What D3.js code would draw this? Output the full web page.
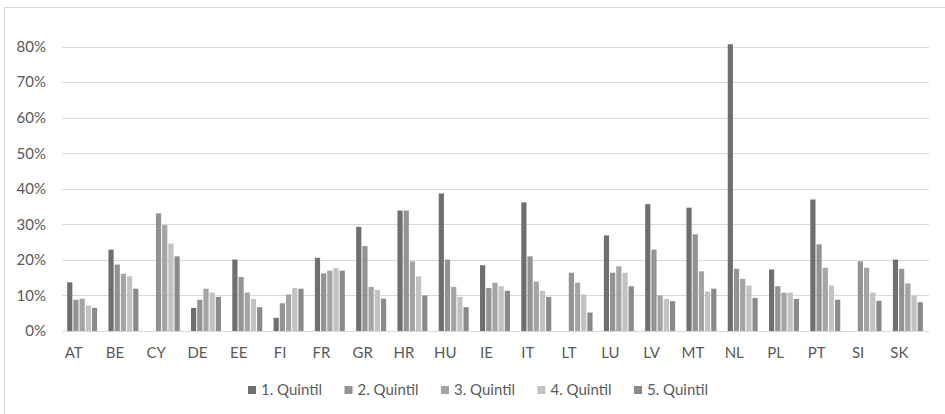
<!DOCTYPE html>
<html>
<head>
<meta charset="utf-8">
<script src="https://cdn.jsdelivr.net/npm/d3@7"></script>
<style>
  html, body { margin: 0; padding: 0; background: #fff; }
  svg { display: block; font-family: Lato, "Open Sans", sans-serif; }
</style>
</head>
<body>
<svg id="chart" width="945" height="414"></svg>
<script>
// Country codes along the x axis
const countries = ["AT","BE","CY","DE","EE","FI","FR","GR","HR","HU","IE","IT","LT","LU","LV","MT","NL","PL","PT","SI","SK"];

// Share per income quintil (percent); null = no value
const quintil1 = [13.7,22.9,null,6.5,20.1,3.7,20.6,29.3,33.9,38.7,18.5,36.2,null,26.9,35.7,34.7,80.7,17.3,37.0,null,20.1];
const quintil2 = [8.8,18.7,33.1,8.8,15.2,7.8,16.2,23.9,33.9,20.1,12.1,21.0,16.4,16.4,22.9,27.2,17.5,12.6,24.4,19.6,17.5];
const quintil3 = [9.1,16.1,29.8,11.9,10.8,10.3,17.0,12.4,19.6,12.4,13.6,13.9,13.6,18.2,10.0,16.8,14.7,10.8,17.8,17.8,13.4];
const quintil4 = [7.2,15.4,24.6,10.8,9.0,12.1,17.7,11.6,15.4,9.6,12.6,11.3,10.3,16.4,9.0,11.1,12.8,10.8,12.8,10.8,10.0];
const quintil5 = [6.5,11.9,21.0,9.6,6.7,11.9,17.0,9.1,10.0,6.7,11.3,9.6,5.2,12.6,8.4,11.9,9.3,9.0,8.8,8.5,8.1];

const seriesNames = ["1. Quintil","2. Quintil","3. Quintil","4. Quintil","5. Quintil"];
const yTicks = [0,10,20,30,40,50,60,70,80];

const seriesValues = [quintil1, quintil2, quintil3, quintil4, quintil5];
const colors = ["#6f6f6f","#939393","#a4a4a4","#c2c2c2","#8a8a8a"];

const svg = d3.select("#chart");
const W = 945, H = 414;
const plot = { left: 62, right: 929, top: 46.7, bottom: 331 };

svg.append("rect").attr("width", W).attr("height", H).attr("fill", "#fff");
// outer chart frame
svg.append("rect")
  .attr("x", 4.5).attr("y", 7.5)
  .attr("width", W + 10).attr("height", H + 10)
  .attr("fill", "none").attr("stroke", "#d9d9d9").attr("stroke-width", 1);

const x = d3.scaleBand().domain(countries).range([plot.left, plot.right]).paddingInner(0.25).paddingOuter(0.125);
const xs = d3.scaleBand().domain(seriesNames).range([0, x.bandwidth()]);
const y = d3.scaleLinear().domain([0, 80]).range([plot.bottom, plot.top]);

// gridlines
svg.append("g").selectAll("line").data(yTicks).join("line")
  .attr("x1", plot.left).attr("x2", plot.right)
  .attr("y1", d => Math.round(y(d)) + 0.5).attr("y2", d => Math.round(y(d)) + 0.5)
  .attr("stroke", "#d9d9d9").attr("stroke-width", 1);

// y tick labels
svg.append("g").selectAll("text").data(yTicks).join("text")
  .attr("x", 46).attr("y", d => y(d))
  .attr("dy", "0.35em")
  .attr("text-anchor", "end")
  .attr("font-size", 15).attr("fill", "#595959")
  .text(d => d + "%");

// bars
const groups = svg.append("g").selectAll("g").data(countries).join("g")
  .attr("transform", c => `translate(${x(c)},0)`);

groups.selectAll("rect")
  .data((c, i) => seriesNames.map((s, k) => ({ s, k, v: seriesValues[k][i] })).filter(d => d.v != null))
  .join("rect")
  .attr("x", d => xs(d.s))
  .attr("width", xs.bandwidth() - 1)
  .attr("y", d => y(d.v))
  .attr("height", d => y(0) - y(d.v))
  .attr("fill", d => colors[d.k]);

// x axis labels
svg.append("g").selectAll("text").data(countries).join("text")
  .attr("x", c => plot.left + (countries.indexOf(c) + 0.5) * (plot.right - plot.left) / countries.length - 9)
  .attr("y", 358)
  .attr("text-anchor", "middle")
  .attr("font-size", 15).attr("fill", "#595959")
  .text(c => c);

// legend
const legend = svg.append("g").selectAll("g").data(seriesNames).join("g")
  .attr("transform", (d, i) => `translate(${248 + i * 96.5},390)`);
legend.append("rect").attr("x", 0).attr("y", -4).attr("width", 8).attr("height", 8)
  .attr("fill", (d, i) => colors[i]);
legend.append("text").attr("x", 13).attr("y", 0).attr("dy", "0.35em")
  .attr("font-size", 15).attr("fill", "#595959")
  .text(d => d);
</script>
</body>
</html>
